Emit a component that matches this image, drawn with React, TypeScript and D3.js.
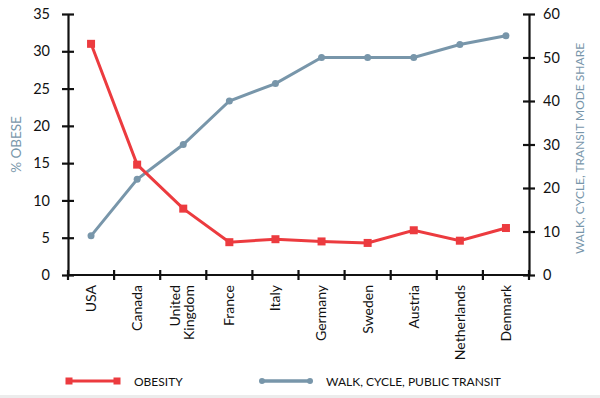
import React, { useEffect, useRef } from 'react';
import * as d3 from 'd3';

const countries = ['USA', 'Canada', 'United Kingdom', 'France', 'Italy', 'Germany', 'Sweden', 'Austria', 'Netherlands', 'Denmark'];
const obesity = [31.0, 14.8, 8.9, 4.4, 4.8, 4.5, 4.3, 6.0, 4.6, 6.3];
const transit = [9, 22, 30, 40, 44, 50, 50, 50, 53, 55];
const leftTicks = [0, 5, 10, 15, 20, 25, 30, 35];
const rightTicks = [0, 10, 20, 30, 40, 50, 60];

const RED = '#ec3b3f';
const BLUE = '#7896aa';

function App() {
  const svgRef = useRef<SVGSVGElement>(null);

  useEffect(() => {
    const svg = d3.select(svgRef.current);
    svg.selectAll('*').remove();

    const width = 600;
    const height = 398;
    const margin = { top: 14, right: 71, bottom: 123, left: 68 };
    const innerWidth = width - margin.left - margin.right;
    const innerHeight = height - margin.top - margin.bottom;
    const font = 'Lato, sans-serif';

    const g = svg.append('g').attr('transform', `translate(${margin.left},${margin.top})`);

    const x = d3.scaleBand().domain(countries).range([0, innerWidth]);
    const yL = d3.scaleLinear().domain([0, 35]).range([innerHeight, 0]);
    const yR = d3.scaleLinear().domain([0, 60]).range([innerHeight, 0]);

    const styleAxis = (sel: any) => {
      sel.select('.domain').attr('stroke', '#111').attr('stroke-width', 2.2);
      sel.selectAll('.tick line').attr('stroke', '#111').attr('stroke-width', 2.2);
      sel.selectAll('text').attr('fill', '#111').attr('font-family', font);
    };

    // left axis
    const gl = g.append('g')
      .call(d3.axisLeft(yL).tickValues(leftTicks).tickSize(6).tickSizeOuter(0).tickPadding(12));
    styleAxis(gl);
    gl.selectAll('.tick line').attr('x2', -6).attr('x1', 6);
    gl.selectAll('text').attr('font-size', 14.5);

    // right axis
    const gr = g.append('g').attr('transform', `translate(${innerWidth},0)`)
      .call(d3.axisRight(yR).tickValues(rightTicks).tickSize(6).tickSizeOuter(0).tickPadding(8));
    styleAxis(gr);
    gr.selectAll('.tick line').attr('x1', -6).attr('x2', 6);
    gr.selectAll('text').attr('font-size', 14.5);

    // bottom axis, ticks on band edges
    const gb = g.append('g').attr('transform', `translate(0,${innerHeight})`);
    gb.append('line').attr('x1', 0).attr('x2', innerWidth).attr('stroke', '#111').attr('stroke-width', 2.2);
    const edges = countries.map(c => x(c) as number).concat([innerWidth]);
    gb.selectAll('line.t').data(edges).join('line').attr('class', 't')
      .attr('x1', d => d).attr('x2', d => d).attr('y1', -5).attr('y2', 5)
      .attr('stroke', '#111').attr('stroke-width', 2.2);
    const labels = gb.selectAll('text.c').data(countries).join('text').attr('class', 'c')
      .attr('transform', d => `translate(${(x(d) as number) + x.bandwidth() / 2},10) rotate(-90)`)
      .attr('text-anchor', 'end')
      .attr('font-family', font).attr('font-size', 14).attr('fill', '#111');
    labels.each(function (d) {
      const words = d === 'United Kingdom' ? ['United', 'Kingdom'] : [d];
      const t = d3.select(this);
      words.forEach((w, i) => {
        t.append('tspan').attr('x', 0)
          .attr('dy', i === 0 ? (words.length > 1 ? '-0.2em' : '0.35em') : '1.0em')
          .text(w);
      });
    });

    const cx = (d: string) => (x(d) as number) + x.bandwidth() / 2;

    // transit line
    const lineR = d3.line<number>().x((d, i) => cx(countries[i])).y(d => yR(d));
    g.append('path').datum(transit).attr('fill', 'none').attr('stroke', BLUE)
      .attr('stroke-width', 3).attr('d', lineR);
    g.selectAll('circle.p').data(transit).join('circle').attr('class', 'p')
      .attr('cx', (d, i) => cx(countries[i])).attr('cy', d => yR(d)).attr('r', 3.5).attr('fill', BLUE);

    // obesity line
    const lineL = d3.line<number>().x((d, i) => cx(countries[i])).y(d => yL(d));
    g.append('path').datum(obesity).attr('fill', 'none').attr('stroke', RED)
      .attr('stroke-width', 3).attr('d', lineL);
    g.selectAll('rect.p').data(obesity).join('rect').attr('class', 'p')
      .attr('x', (d, i) => cx(countries[i]) - 4).attr('y', d => yL(d) - 4)
      .attr('width', 8).attr('height', 8).attr('fill', RED);

    // axis titles
    svg.append('text')
      .attr('transform', `translate(21,${margin.top + innerHeight / 2}) rotate(-90)`)
      .attr('text-anchor', 'middle').attr('font-family', font).attr('font-size', 13.5)
      .attr('fill', BLUE).text('% OBESE');
    svg.append('text')
      .attr('transform', `translate(584,${margin.top + innerHeight / 2 + 4}) rotate(-90)`)
      .attr('text-anchor', 'middle').attr('font-family', font).attr('font-size', 12)
      .attr('fill', BLUE).text('WALK, CYCLE, TRANSIT MODE SHARE');

    // legend
    const ly = 381;
    const leg = svg.append('g');
    leg.append('line').attr('x1', 69).attr('x2', 117).attr('y1', ly).attr('y2', ly)
      .attr('stroke', RED).attr('stroke-width', 3);
    [69, 117].forEach(px => leg.append('rect').attr('x', px - 3.5).attr('y', ly - 3.5)
      .attr('width', 7).attr('height', 7).attr('fill', RED));
    leg.append('text').attr('x', 134).attr('y', ly + 4.5).attr('font-family', font)
      .attr('font-size', 12).attr('fill', '#111').text('OBESITY');
    leg.append('line').attr('x1', 262).attr('x2', 310).attr('y1', ly).attr('y2', ly)
      .attr('stroke', BLUE).attr('stroke-width', 3.5);
    [262, 310].forEach(px => leg.append('circle').attr('cx', px).attr('cy', ly).attr('r', 3).attr('fill', BLUE));
    leg.append('text').attr('x', 326).attr('y', ly + 4.5).attr('font-family', font)
      .attr('font-size', 12).attr('fill', '#111').text('WALK, CYCLE, PUBLIC TRANSIT');

    svg.append('rect').attr('x', 0).attr('y', 395).attr('width', width).attr('height', 3).attr('fill', '#ececec');
  }, []);

  return (
    <div style={{ position: 'absolute', left: 0, top: 0 }}>
      <svg ref={svgRef} width={600} height={398} style={{ display: 'block', background: '#fff' }}></svg>
    </div>
  );
}

export default App;
